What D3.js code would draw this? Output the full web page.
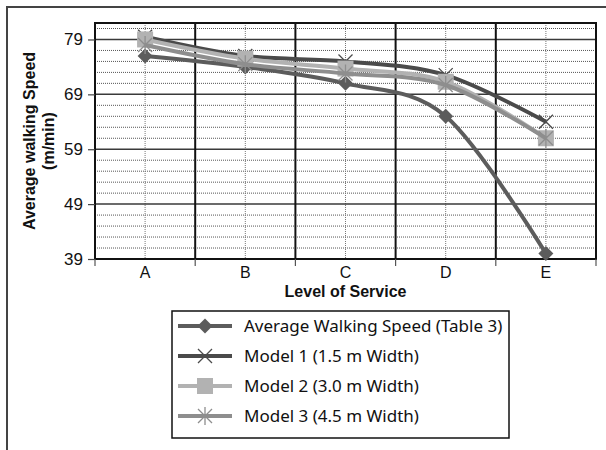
<!DOCTYPE html>
<html>
<head>
<meta charset="utf-8">
<script src="https://cdn.jsdelivr.net/npm/d3@7"></script>
<style>
html,body{margin:0;padding:0;background:#fff;}
svg{display:block;}
</style>
</head>
<body>
<svg id="chart" width="606" height="450"></svg>
<script>
const categories = ["A", "B", "C", "D", "E"];
const avgSpeed = [76, 74, 71, 65, 40];
const model1 = [79.5, 76, 75, 72.5, 64];
const model2 = [79, 75.5, 73.7, 71.3, 61];
const model3 = [78, 74.5, 72.8, 70.7, 61];
const seriesNames = ["Average Walking Speed (Table 3)", "Model 1 (1.5 m Width)", "Model 2 (3.0 m Width)", "Model 3 (4.5 m Width)"];
const yTicks = [39, 49, 59, 69, 79];
const yMinor = [41, 43, 45, 47, 51, 53, 55, 57, 61, 63, 65, 67, 71, 73, 75, 77, 81];

const series = [
  {name: seriesNames[0], values: avgSpeed, color: "#5c5c5c", marker: "diamond"},
  {name: seriesNames[1], values: model1, color: "#4a4a4a", marker: "x"},
  {name: seriesNames[2], values: model2, color: "#b2b2b2", marker: "square"},
  {name: seriesNames[3], values: model3, color: "#8e8e8e", marker: "star"}
];

const svg = d3.select("#chart");
const L = 95, R = 596, T = 23, B = 259;

const x = d3.scaleBand().domain(categories).range([L, R]).padding(0);
const xc = c => x(c) + x.bandwidth() / 2;
const y = d3.scaleLinear().domain([39, 82]).range([B, T]);

// outer frame (left & top only visible)
svg.append("path").attr("d", "M7,450 L7,7 L606,7").attr("fill", "none")
  .attr("stroke", "#444").attr("stroke-width", 2);

// minor horizontal gridlines (dotted)
svg.append("g").selectAll("line").data(yMinor).join("line")
  .attr("x1", L).attr("x2", R).attr("y1", d => y(d)).attr("y2", d => y(d))
  .attr("stroke", "#555").attr("stroke-width", 1).attr("stroke-dasharray", "1,1");

// vertical center dotted lines
svg.append("g").selectAll("line").data(categories).join("line")
  .attr("x1", d => xc(d)).attr("x2", d => xc(d)).attr("y1", T).attr("y2", B)
  .attr("stroke", "#777").attr("stroke-width", 1).attr("stroke-dasharray", "1,1");

// major horizontal gridlines
svg.append("g").selectAll("line").data(yTicks.slice(1)).join("line")
  .attr("x1", L).attr("x2", R).attr("y1", d => y(d)).attr("y2", d => y(d))
  .attr("stroke", "#3a3a3a").attr("stroke-width", 1.5);

// vertical boundary lines
svg.append("g").selectAll("line").data(categories.slice(1)).join("line")
  .attr("x1", d => x(d)).attr("x2", d => x(d)).attr("y1", T).attr("y2", B)
  .attr("stroke", "#111").attr("stroke-width", 2);

// plot border
svg.append("rect").attr("x", L).attr("y", T).attr("width", R - L).attr("height", B - T)
  .attr("fill", "none").attr("stroke", "#111").attr("stroke-width", 2);

// y axis
const yAxis = svg.append("g").attr("transform", `translate(${L},0)`)
  .call(d3.axisLeft(y).tickValues(yTicks).tickSize(7).tickPadding(5));
yAxis.select(".domain").remove();
yAxis.selectAll("line").attr("stroke", "#444").attr("stroke-width", 1.2);
yAxis.selectAll("text").attr("font-family", "Liberation Sans, Arial, sans-serif")
  .attr("font-size", 17).attr("fill", "#111");

// x axis ticks at boundaries
const boundaries = categories.map(c => x(c)).concat([R]);
svg.append("g").selectAll("line").data(boundaries).join("line")
  .attr("x1", d => d).attr("x2", d => d).attr("y1", B).attr("y2", B + 7)
  .attr("stroke", "#555").attr("stroke-width", 1.2);

const xAxis = svg.append("g").attr("transform", `translate(0,${B})`)
  .call(d3.axisBottom(x).tickSize(0).tickPadding(8));
xAxis.select(".domain").remove();
xAxis.selectAll("text").attr("font-family", "Liberation Sans, Arial, sans-serif")
  .attr("font-size", 16).attr("fill", "#111");

// axis titles
svg.append("text").attr("x", (L + R) / 2).attr("y", 297).attr("text-anchor", "middle")
  .attr("font-family", "Liberation Sans, Arial, sans-serif").attr("font-weight", "bold")
  .attr("font-size", 16).attr("fill", "#111").text("Level of Service");

const yt = svg.append("text").attr("transform", `translate(35,${(T + B) / 2}) rotate(-90)`)
  .attr("text-anchor", "middle").attr("font-family", "Liberation Sans, Arial, sans-serif")
  .attr("font-weight", "bold").attr("font-size", 16).attr("fill", "#111");
yt.append("tspan").attr("x", 0).attr("y", 0).text("Average walking Speed");
yt.append("tspan").attr("x", 0).attr("y", 19).text("(m/min)");

// markers
function drawMarker(g, type, color) {
  if (type === "diamond") {
    g.append("path").attr("d", "M0,-7.5L7.5,0L0,7.5L-7.5,0Z").attr("fill", color);
  } else if (type === "square") {
    g.append("rect").attr("x", -8).attr("y", -8).attr("width", 16).attr("height", 16).attr("fill", color);
  } else if (type === "x") {
    g.append("path").attr("d", "M-7,-7L7,7M-7,7L7,-7").attr("stroke", color).attr("stroke-width", 1.3).attr("fill", "none");
  } else if (type === "star") {
    g.append("path").attr("d", "M-7,-7L7,7M-7,7L7,-7M0,-9L0,9").attr("stroke", color).attr("stroke-width", 1.3).attr("fill", "none");
  }
}

const line = d3.line().x((d, i) => xc(categories[i])).y(d => y(d)).curve(d3.curveCardinal.tension(0));

series.forEach(s => {
  const g = svg.append("g");
  g.append("path").attr("d", line(s.values)).attr("fill", "none")
    .attr("stroke", s.color).attr("stroke-width", 4);
  s.values.forEach((v, i) => {
    const m = g.append("g").attr("transform", `translate(${xc(categories[i])},${y(v)})`);
    drawMarker(m, s.marker, s.color);
  });
});

// legend
const lg = svg.append("g");
lg.append("rect").attr("x", 172).attr("y", 311).attr("width", 337).attr("height", 127)
  .attr("fill", "#fff").attr("stroke", "#111").attr("stroke-width", 1.5);
series.forEach((s, i) => {
  const cy = 326 + i * 30;
  lg.append("line").attr("x1", 178).attr("x2", 232).attr("y1", cy).attr("y2", cy)
    .attr("stroke", s.color).attr("stroke-width", 4);
  const m = lg.append("g").attr("transform", `translate(205,${cy})`);
  drawMarker(m, s.marker, s.color);
  lg.append("text").attr("x", 244).attr("y", cy + 6)
    .attr("font-family", "Noto Sans, sans-serif").attr("font-size", 17).attr("fill", "#111")
    .text(s.name);
});
</script>
</body>
</html>
